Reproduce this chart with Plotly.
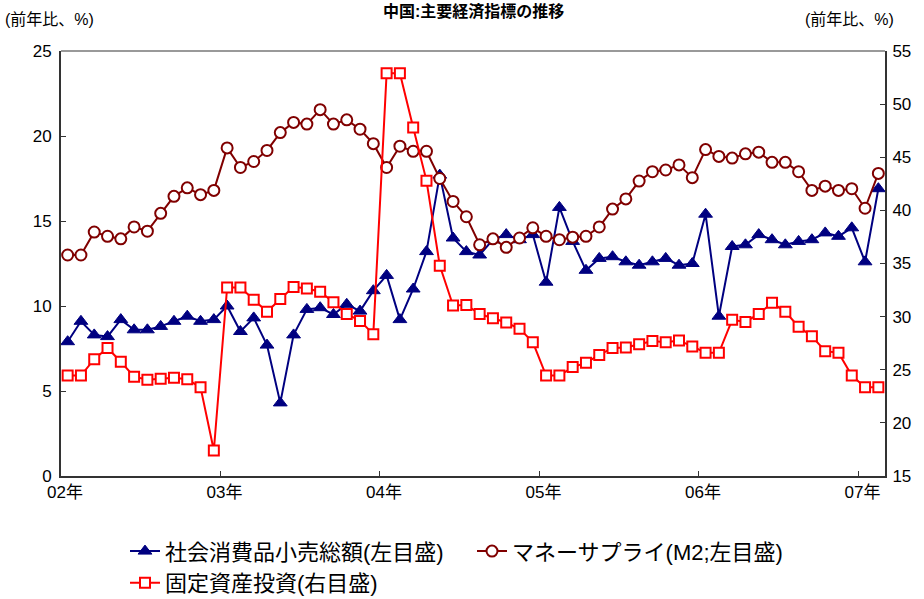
import pandas as pd
import plotly.graph_objects as go

# Monthly observations, Jan 2002 - Feb 2007
months = pd.date_range("2002-01-01", periods=62, freq="MS")

# 社会消費品小売総額 (前年比, %) - left axis
retail = [7.9, 9.1, 8.3, 8.2, 9.2, 8.6, 8.6, 8.8, 9.1, 9.4,
          9.1, 9.2, 10.0, 8.5, 9.3, 7.7, 4.3, 8.3, 9.8, 9.9,
          9.5, 10.1, 9.7, 10.9, 11.8, 9.2, 11.0, 13.2, 17.7, 14.0,
          13.2, 13.0, 13.9, 14.2, 13.9, 14.2, 11.4, 15.8, 13.8, 12.1,
          12.8, 12.9, 12.6, 12.4, 12.6, 12.8, 12.4, 12.5, 15.4, 9.4,
          13.5, 13.6, 14.2, 13.9, 13.6, 13.8, 13.9, 14.3, 14.1, 14.6,
          12.6, 16.9]

# マネーサプライ M2 (前年比, %) - left axis
m2 = [13.0, 13.0, 14.35, 14.1, 13.95, 14.65, 14.4, 15.45, 16.45, 16.95,
      16.55, 16.8, 19.3, 18.15, 18.5, 19.15, 20.2, 20.8, 20.7, 21.55,
      20.7, 20.95, 20.4, 19.55, 18.15, 19.4, 19.1, 19.1, 17.5, 16.15,
      15.25, 13.6, 13.95, 13.45, 14.0, 14.6, 14.1, 13.9, 14.05, 14.1,
      14.65, 15.7, 16.3, 17.35, 17.9, 18.0, 18.3, 17.55, 19.2, 18.8,
      18.7, 18.95, 19.05, 18.45, 18.45, 17.9, 16.8, 17.05, 16.8, 16.9,
      15.75, 17.8]

# 固定資産投資 (前年比, %) - right axis
fai = [24.45, 24.45, 26.0, 27.05, 25.75, 24.35, 24.05, 24.15, 24.25, 24.1,
       23.35, 17.4, 32.75, 32.75, 31.6, 30.45, 31.65, 32.8, 32.65, 32.35,
       31.35, 30.25, 29.6, 28.35, 52.9, 52.9, 47.8, 42.8, 34.8, 31.05,
       31.1, 30.25, 29.85, 29.45, 28.85, 27.6, 24.45, 24.45, 25.25, 25.65,
       26.4, 27.05, 27.1, 27.4, 27.7, 27.6, 27.75, 27.2, 26.6, 26.6,
       29.7, 29.5, 30.25, 31.3, 30.45, 29.05, 28.15, 26.75, 26.6, 24.45,
       23.35, 23.35]

year_ticks = [0, 12, 24, 36, 48, 60]
year_labels = ["02年", "03年", "04年", "05年", "06年", "07年"]

left_ticks = [0, 5, 10, 15, 20, 25]
right_ticks = [15, 20, 25, 30, 35, 40, 45, 50, 55]

# each month sits in the middle of its slot; year ticks fall on slot boundaries
x = [(d.year - 2002) * 12 + (d.month - 1) + 0.5 for d in months]

FONT = "Liberation Sans, Arial, Noto Sans CJK JP, sans-serif"
NAVY = "#000080"
MAROON = "#800000"
RED = "#FF0000"

fig = go.Figure()

fig.add_trace(go.Scatter(
    x=x, y=retail, name="社会消費品小売総額(左目盛)",
    mode="lines+markers",
    line=dict(color=NAVY, width=2),
    marker=dict(symbol="triangle-up", size=12, color=NAVY,
                line=dict(color=NAVY, width=1)),
    yaxis="y",
))

fig.add_trace(go.Scatter(
    x=x, y=m2, name="マネーサプライ(M2;左目盛)",
    mode="lines+markers",
    line=dict(color=MAROON, width=2),
    marker=dict(symbol="circle", size=11, color="white",
                line=dict(color=MAROON, width=2)),
    yaxis="y",
))

fig.add_trace(go.Scatter(
    x=x, y=fai, name="固定資産投資(右目盛)",
    mode="lines+markers",
    line=dict(color=RED, width=2),
    marker=dict(symbol="square", size=10, color="white",
                line=dict(color=RED, width=2)),
    yaxis="y2",
))

# plot area spans x 61..885 px, y 50.7..475.7 px
L, R, T, B = 61, 39, 50.7, 123.3
W, H = 924, 599
pw = W - L - R
ph = H - T - B

fig.update_layout(
    width=W, height=H,
    margin=dict(l=L, r=R, t=T, b=B, pad=0, autoexpand=False),
    paper_bgcolor="white",
    plot_bgcolor="white",
    font=dict(family=FONT, size=17, color="black"),
    showlegend=True,
    legend=dict(
        orientation="h",
        x=(125 - L) / pw, xanchor="left",
        y=-(530 - (H - B)) / ph, yanchor="top",
        entrywidth=302, entrywidthmode="pixels",
        font=dict(family=FONT, size=22, color="black"),
        bgcolor="rgba(0,0,0,0)",
        itemsizing="trace",
        tracegroupgap=0,
    ),
    xaxis=dict(
        range=[0, 62],
        tickmode="array", tickvals=year_ticks, ticktext=year_labels,
        ticks="inside", ticklen=5, tickwidth=1, tickcolor="#333",
        showline=True, linecolor="#333", linewidth=2,
        showgrid=False, zeroline=False,
        tickfont=dict(family=FONT, size=17, color="black"),
        ticklabelshift=4,
    ),
    yaxis=dict(
        range=[0, 25],
        tickmode="array", tickvals=left_ticks,
        ticks="inside", ticklen=5, tickwidth=1, tickcolor="#333",
        showline=True, linecolor="#333", linewidth=2,
        showgrid=False, zeroline=False,
        tickfont=dict(family=FONT, size=17, color="black"),
        ticklabelstandoff=4,
    ),
    yaxis2=dict(
        range=[15, 55], overlaying="y", side="right",
        tickmode="array", tickvals=right_ticks,
        ticks="inside", ticklen=5, tickwidth=1, tickcolor="#333",
        showline=True, linecolor="#333", linewidth=2,
        showgrid=False, zeroline=False,
        tickfont=dict(family=FONT, size=17, color="black"),
        ticklabelstandoff=2,
    ),
    shapes=[dict(
        type="line", xref="paper", yref="paper",
        x0=0, x1=1, y0=1, y1=1,
        line=dict(color="#999", width=2),
    )],
    annotations=[
        dict(text="<b>中国:主要経済指標の推移</b>",
             xref="paper", yref="paper",
             x=0.5, y=1 + T / ph, xanchor="center", yanchor="top",
             showarrow=False,
             font=dict(family=FONT, size=16, color="black")),
        dict(text="(前年比、%)",
             xref="paper", yref="paper",
             x=-(L - 3) / pw, y=1 + (T - 19) / ph,
             xanchor="left", yanchor="middle",
             showarrow=False,
             font=dict(family=FONT, size=16, color="black")),
        dict(text="(前年比、%)",
             xref="paper", yref="paper",
             x=1 + (896 - (W - R)) / pw, y=1 + (T - 19) / ph,
             xanchor="right", yanchor="middle",
             showarrow=False,
             font=dict(family=FONT, size=16, color="black")),
    ],
)

fig.write_html("out.html")
